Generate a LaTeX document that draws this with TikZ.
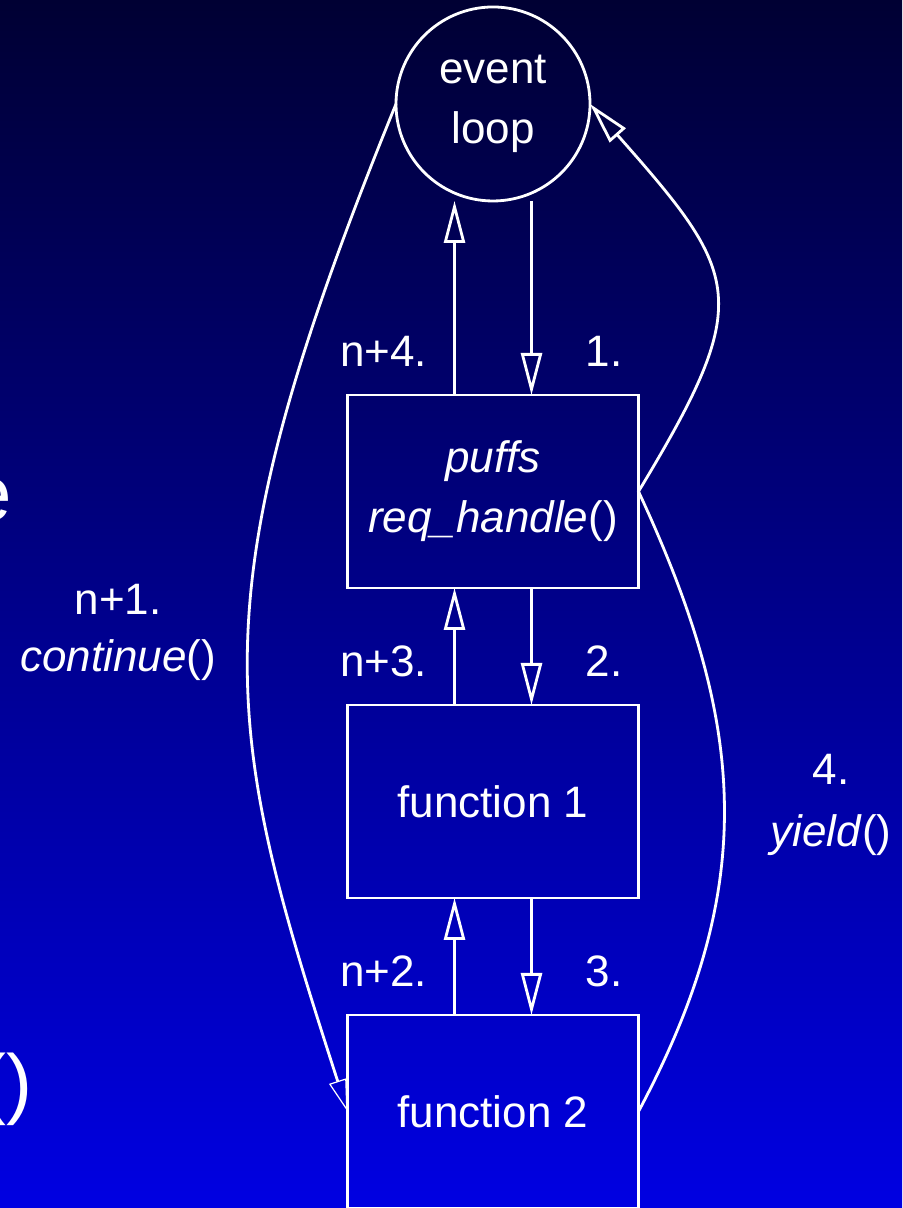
\documentclass[tikz,border=0pt]{standalone}
\usepackage{fontspec}
\setmainfont{Liberation Sans}
\usetikzlibrary{arrows.meta,positioning,calc}
\definecolor{bgtop}{HTML}{000033}
\definecolor{bgbot}{HTML}{0000E2}

\tikzset{
  stage/.style={draw=white,line width=1.4pt,minimum width=145.5pt,
    minimum height=96.5pt,inner sep=0pt,outer sep=0pt,align=center,text=white},
  loopnode/.style={circle,draw=white,line width=1.4pt,minimum size=97pt,
    inner sep=0pt,outer sep=0pt,align=center,text=white},
  flow/.style={draw=white,line width=1.4pt,
    -{Triangle[open,length=21pt,width=10.5pt]}},
  jump/.style={draw=white,line width=1.4pt,
    -{Triangle[open,length=16pt,width=9pt,line width=.6pt]}},
  lbl/.style={text=white,inner sep=0pt,align=center},
}

\begin{document}
\begin{tikzpicture}[x=1pt,y=1pt,font=\fontsize{22}{30}\selectfont]
  \useasboundingbox (0,0) rectangle (451,604);
  \shade[top color=bgtop,bottom color=bgbot] (0,0) rectangle (451,604);
  \clip (0,0) rectangle (451,604);

  % slide text running in from the left
  \node[lbl,anchor=base west,font=\fontsize{39}{47}\selectfont] (tail) at (-16,343.5) {e};
  \node[lbl,anchor=base west,font=\fontsize{39}{47}\selectfont] (parens) at (-10,49) {()};

  % call stack
  \node[loopnode] (loop) at (246.5,552) {event\\loop};
  \node[stage,below=97pt of loop] (puffs) {\textit{puffs}\\\textit{req\_handle}()};
  \node[stage,below=58.5pt of puffs] (fone) {function 1};
  \node[stage,below=58.5pt of fone] (ftwo) {function 2};

  \foreach \up/\dn/\back/\fwd in {loop/puffs/n+4./1., puffs/fone/n+3./2., fone/ftwo/n+2./3.}{
    \draw[flow] ([xshift=-19.25pt]\dn.north) -- ([xshift=-19.25pt]\up.south);
    \draw[flow] ([xshift=19.25pt]\up.south) -- ([xshift=19.25pt]\dn.north);
    \node[lbl,anchor=base east] (\dn-back) at ([xshift=-32.75pt,yshift=14pt]\dn.north) {\back};
    \node[lbl,anchor=base west] (\dn-fwd) at ([xshift=46.25pt,yshift=14pt]\dn.north) {\fwd};
  }

  % switching coroutines
  \draw[jump] (loop.west) .. controls +(-101,-247.5) and +(-63,194.5) .. (ftwo.west);
  \draw[flow] (ftwo.east) .. controls +(61,114) and +(53.5,-115) .. (puffs.east)
    .. controls +(58,96) and +(76,-86) .. (loop.east);
  \node[lbl,font=\fontsize{22}{28.5}\selectfont] (cont) at (59,288) {n+1.\\\textit{continue}()};
  \node[lbl,font=\fontsize{22}{31}\selectfont] (yld) at (415.5,201.5) {4.\\\textit{yield}()};
\end{tikzpicture}
\end{document}
